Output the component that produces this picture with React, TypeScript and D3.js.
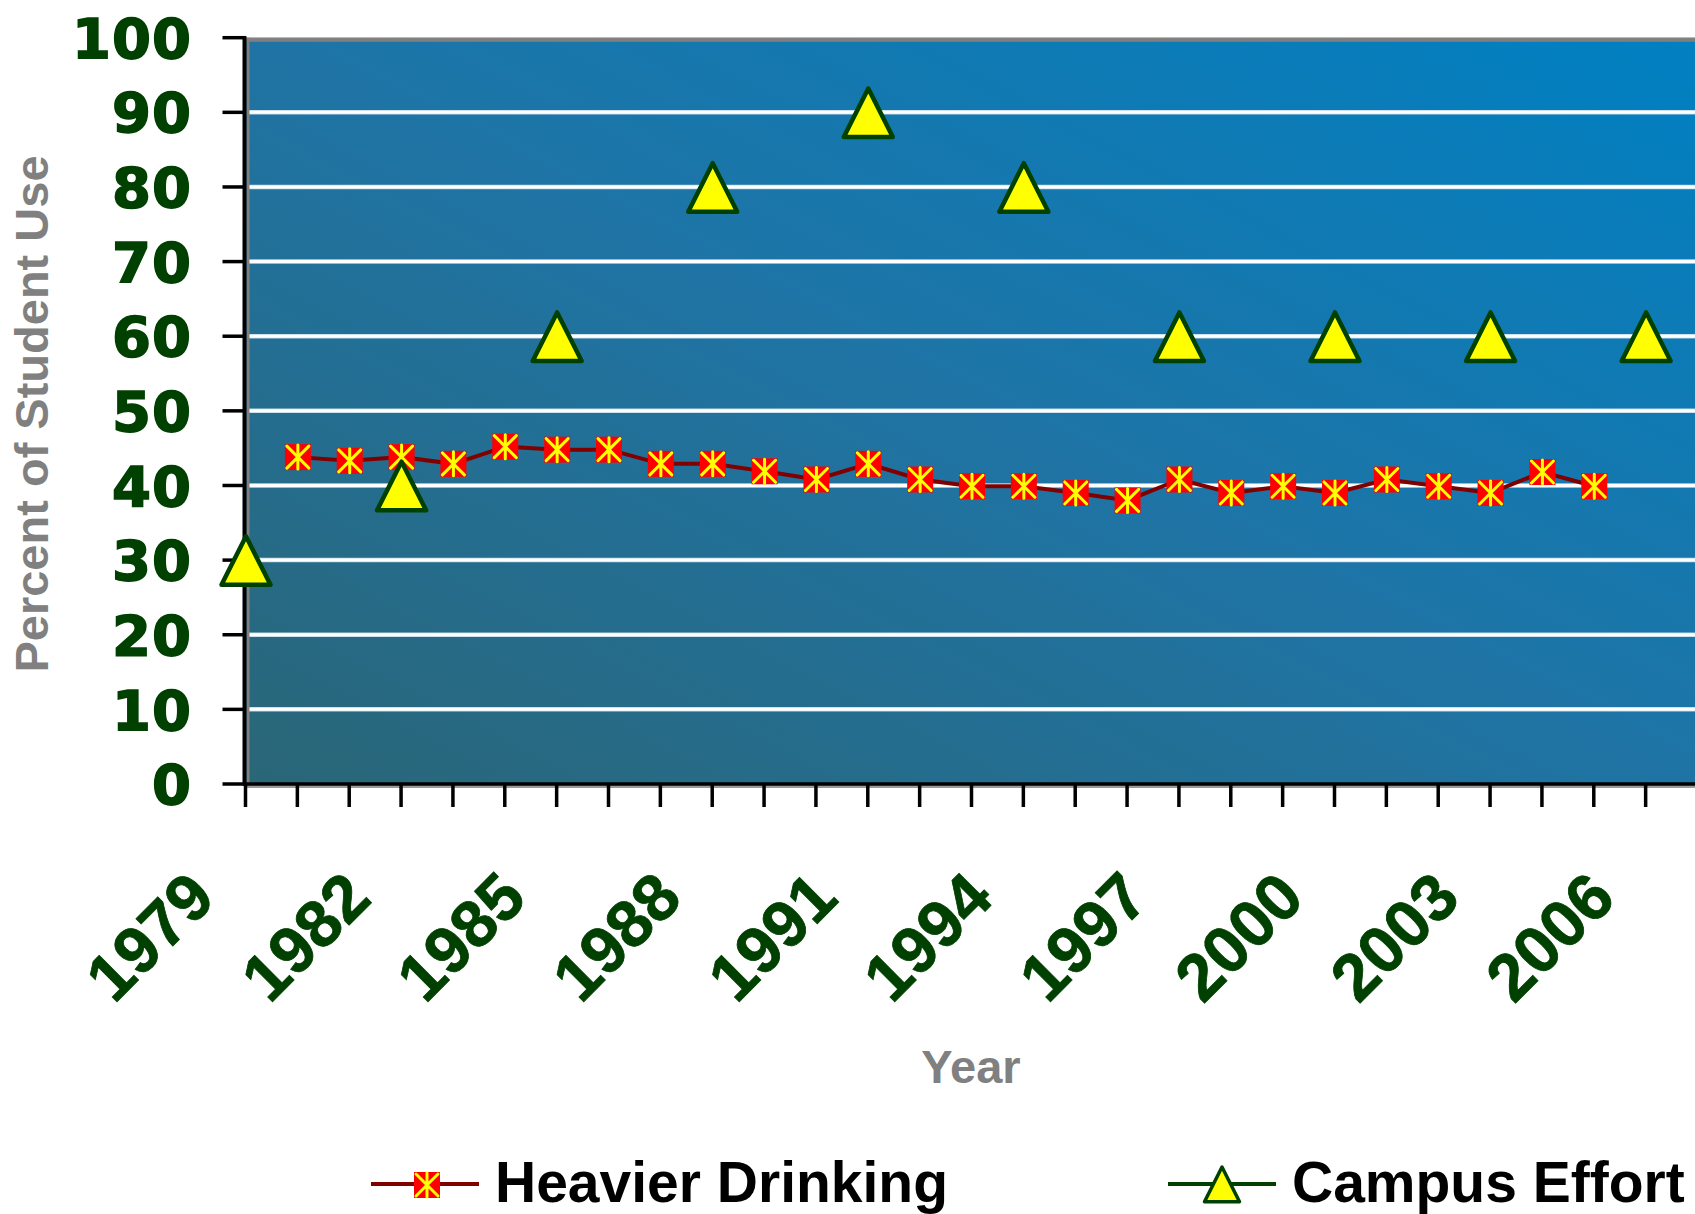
import React from "react";
import * as d3 from "d3";

const categoryYears = [
  1979, 1980, 1981, 1982, 1983, 1984, 1985, 1986, 1987, 1988, 1989, 1990, 1991, 1992,
  1993, 1994, 1995, 1996, 1997, 1998, 1999, 2000, 2001, 2002, 2003, 2004, 2005, 2006, 2007,
];
const tickLabelYears = [1979, 1982, 1985, 1988, 1991, 1994, 1997, 2000, 2003, 2006];
const heavierYears = [
  1980, 1981, 1982, 1983, 1984, 1985, 1986, 1987, 1988, 1989, 1990, 1991, 1992,
  1993, 1994, 1995, 1996, 1997, 1998, 1999, 2000, 2001, 2002, 2003, 2004, 2005,
];
const heavierValues = [
  43.8, 43.3, 43.8, 42.9, 45.2, 44.8, 44.8, 42.9, 42.9, 41.9, 40.8, 42.9, 40.8,
  39.9, 39.9, 39.0, 38.0, 40.8, 39.0, 39.9, 39.0, 40.8, 39.9, 39.0, 41.8, 39.9,
];
const campusYears = [1979, 1982, 1985, 1988, 1991, 1994, 1997, 2000, 2003, 2006];
const campusValues = [30, 40, 60, 80, 90, 80, 60, 60, 60, 60];
const yTicks = [0, 10, 20, 30, 40, 50, 60, 70, 80, 90, 100];
const gridValues = [10, 20, 30, 40, 50, 60, 70, 80, 90];

const W = 1695;
const H = 1214;
const green = "#004000";
const gray = "#808080";
const arial = "'Liberation Sans', Arial, sans-serif";
const wide = "'DejaVu Sans', Verdana, sans-serif";

const x = d3.scalePoint<number>().domain(categoryYears).range([246, 1698]);
const y = d3.scaleLinear().domain([0, 100]).range([784, 37.7]);

const heavierData = heavierYears.map((yr, i) => ({ yr, v: heavierValues[i] }));
const campusData = campusYears.map((yr, i) => ({ yr, v: campusValues[i] }));

const line = d3
  .line<{ yr: number; v: number }>()
  .x((d) => x(d.yr) as number)
  .y((d) => y(d.v));

const triPath = (s: number) =>
  `M0,${-s * 0.97} L${s},${s * 1.01} L${-s},${s * 1.01} Z`;

function StarMarker({ cx, cy }: { cx: number; cy: number }) {
  const h = 13;
  const a = 11;
  return (
    <g transform={`translate(${cx},${cy})`}>
      <rect x={-h} y={-h} width={2 * h} height={2 * h} fill="#ff0000" />
      <path
        d={`M${-a},${-a} L${a},${a} M${a},${-a} L${-a},${a} M0,${-h + 1} L0,${h - 1}`}
        stroke="#ffff00"
        strokeWidth={3}
        strokeLinecap="round"
        fill="none"
      />
    </g>
  );
}

export default function App() {
  const plotLeft = 246;
  const plotRight = 1698;
  const plotTop = y(100);
  const plotBottom = y(0);
  return (
    <>
      <style>{`body{margin:0}`}</style>
      <svg width={W} height={H} style={{ display: "block", background: "#fff" }}>
        <defs>
          <linearGradient id="bg" x1="0" y1="1" x2="1" y2="0">
            <stop offset="0" stopColor="#2a6677" />
            <stop offset="0.5" stopColor="#1f74a5" />
            <stop offset="1" stopColor="#0080c2" />
          </linearGradient>
        </defs>

        {/* plot area */}
        <rect
          x={plotLeft}
          y={plotTop}
          width={plotRight - plotLeft}
          height={plotBottom - plotTop}
          fill="url(#bg)"
        />
        {gridValues.map((v) => (
          <g key={v}>
            <line x1={plotLeft + 3} x2={plotRight} y1={y(v)} y2={y(v)} stroke="#bcd8e8" strokeWidth={4.5} />
            <line x1={plotLeft + 3} x2={plotRight} y1={y(v)} y2={y(v)} stroke="#ffffff" strokeWidth={3} />
          </g>
        ))}
        {/* gray borders */}
        <line x1={plotLeft} x2={plotRight} y1={plotTop + 2} y2={plotTop + 2} stroke={gray} strokeWidth={4} />
        <line x1={plotLeft + 2} x2={plotLeft + 2} y1={plotTop} y2={plotBottom} stroke={gray} strokeWidth={3} />
        <line x1={plotLeft} x2={plotRight} y1={plotBottom + 2.5} y2={plotBottom + 2.5} stroke="#9a9a9a" strokeWidth={3} />

        {/* axes */}
        <line x1={plotLeft - 1.5} x2={plotLeft - 1.5} y1={plotTop - 1.5} y2={plotBottom + 1.5} stroke="#000" strokeWidth={4} />
        <line x1={plotLeft - 3} x2={plotRight} y1={plotBottom} y2={plotBottom} stroke="#000" strokeWidth={3.5} />
        {yTicks.map((v) => (
          <line key={v} x1={222.5} x2={plotLeft} y1={y(v)} y2={y(v)} stroke="#000" strokeWidth={3.5} />
        ))}
        {categoryYears.map((yr) => (
          <line
            key={yr}
            x1={(x(yr) as number) - 0.5}
            x2={(x(yr) as number) - 0.5}
            y1={plotBottom}
            y2={807}
            stroke="#000"
            strokeWidth={3.5}
          />
        ))}

        {/* y tick labels */}
        {yTicks.map((v) => (
          <text
            key={v}
            x={192}
            y={y(v)}
            dy="0.36em"
            textAnchor="end"
            fontFamily={wide}
            fontWeight="bold"
            fontSize={56}
            fill={green}
            stroke={green}
            strokeWidth={1.6}
            letterSpacing={1}
          >
            {v}
          </text>
        ))}

        {/* x tick labels */}
        {tickLabelYears.map((yr) => {
          const ax = (x(yr) as number) - 45;
          const ay = 884;
          return (
            <text
              key={yr}
              transform={`translate(${ax},${ay}) rotate(-45)`}
              dy="0.36em"
              textAnchor="end"
              fontFamily={arial}
              fontWeight="bold"
              fontSize={66}
              fill={green}
              stroke={green}
              strokeWidth={0.8}
            >
              {yr}
            </text>
          );
        })}

        {/* axis titles */}
        <text
          transform="translate(48,414) rotate(-90)"
          textAnchor="middle"
          fontFamily={arial}
          fontWeight="bold"
          fontSize={47}
          fill={gray}
        >
          Percent of Student Use
        </text>
        <text
          x={971}
          y={1083}
          textAnchor="middle"
          fontFamily={arial}
          fontWeight="bold"
          fontSize={47}
          fill={gray}
        >
          Year
        </text>

        {/* Heavier Drinking series */}
        <path d={line(heavierData) || ""} fill="none" stroke="#800000" strokeWidth={4} />
        {heavierData.map((d) => (
          <StarMarker key={d.yr} cx={x(d.yr) as number} cy={y(d.v)} />
        ))}

        {/* Campus Effort series (markers only) */}
        {campusData.map((d) => (
          <path
            key={d.yr}
            transform={`translate(${x(d.yr)},${y(d.v)})`}
            d={triPath(24.5)}
            fill="#ffff00"
            stroke={green}
            strokeWidth={4.5}
            strokeLinejoin="round"
          />
        ))}

        {/* legend */}
        <line x1={371} x2={479} y1={1184} y2={1184} stroke="#800000" strokeWidth={4} />
        <StarMarker cx={427} cy={1185} />
        <text x={495} y={1202} fontFamily={arial} fontWeight="bold" fontSize={57} fill="#000">
          Heavier Drinking
        </text>
        <line x1={1168} x2={1276} y1={1184} y2={1184} stroke={green} strokeWidth={4} />
        <path
          transform="translate(1222,1184)"
          d={triPath(17.5)}
          fill="#ffff00"
          stroke={green}
          strokeWidth={3.5}
          strokeLinejoin="round"
        />
        <text x={1292} y={1202} fontFamily={arial} fontWeight="bold" fontSize={57} fill="#000">
          Campus Effort
        </text>
      </svg>
    </>
  );
}
